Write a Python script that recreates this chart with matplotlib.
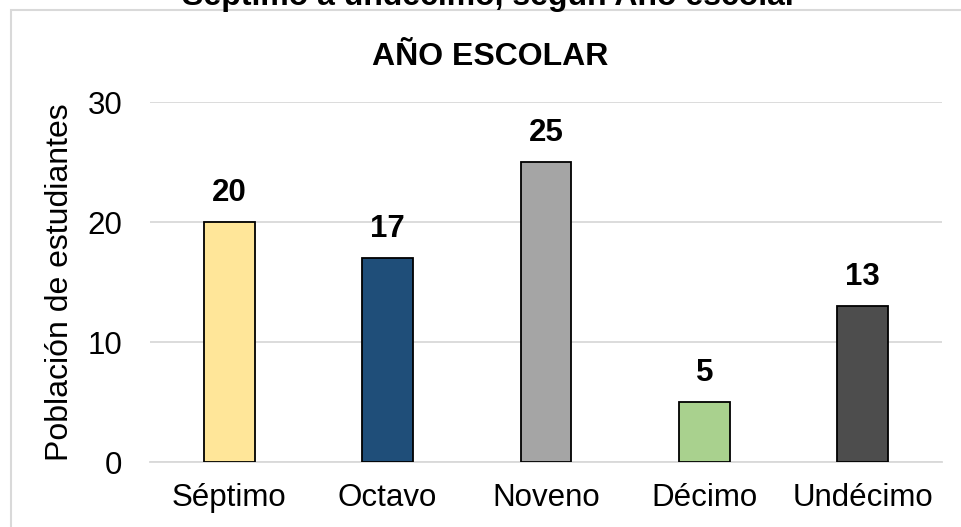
import matplotlib
matplotlib.use("Agg")
import matplotlib.pyplot as plt
from matplotlib.patches import Rectangle

# ---------- data ----------
CATEGORIES = ["Séptimo", "Octavo", "Noveno", "Décimo", "Undécimo"]
VALUES = [20, 17, 25, 5, 13]
COLORS = ["#FFE699", "#1F4E79", "#A5A5A5", "#A9D18E", "#4D4D4D"]
Y_TICKS = [0, 10, 20, 30]
TITLE = "AÑO ESCOLAR"
CUT_TITLE = "Séptimo a undécimo, según Año escolar"
Y_LABEL = "Población de estudiantes"
# --------------------------

plt.rcParams["font.family"] = ["Liberation Sans", "DejaVu Sans"]

W, H = 961, 527
fig = plt.figure(figsize=(W / 100, H / 100), dpi=100)
ax = fig.add_axes([150 / W, 1 - 462 / H, (942 - 150) / W, (462 - 102) / H])

# chart frame (clipped at right/bottom like the screenshot)
fig.patches.append(Rectangle((11 / W, -0.1), 1.2, 1.1 - 10 / H, transform=fig.transFigure,
                             fill=False, edgecolor="#D9D9D9", linewidth=1.5, zorder=0))

x = range(len(CATEGORIES))
bars = ax.bar(x, VALUES, width=0.32, color=COLORS, edgecolor="black", linewidth=1.3, zorder=3)
for b, v in zip(bars, VALUES):
    ax.annotate(str(v), (b.get_x() + b.get_width() / 2, v), xytext=(0, 10),
                textcoords="offset points", ha="center", va="bottom",
                fontsize=22.5, fontweight="bold")

ax.set_xlim(-0.5, len(CATEGORIES) - 0.5)
ax.set_ylim(0, 30)
ax.set_yticks(Y_TICKS)
ax.set_xticks(list(x))
ax.set_xticklabels(CATEGORIES)
ax.tick_params(axis="both", length=0, labelsize=22.5)
ax.tick_params(axis="y", pad=20)
ax.tick_params(axis="x", pad=15)
ax.grid(axis="y", color="#D9D9D9", linewidth=1.3, zorder=0)
for s in ["top", "right", "left"]:
    ax.spines[s].set_visible(False)
ax.spines["bottom"].set_color("#D9D9D9")
ax.spines["bottom"].set_linewidth(1.3)
ax.set_ylabel(Y_LABEL, fontsize=23, labelpad=9)

fig.text(490 / W, 1 - 65 / H, TITLE, ha="center", va="baseline", fontsize=23, fontweight="bold")
fig.text(490 / W, 1 - 5 / H, CUT_TITLE, ha="center", va="baseline", fontsize=23, fontweight="bold")

fig.savefig("out.png", dpi=100)
